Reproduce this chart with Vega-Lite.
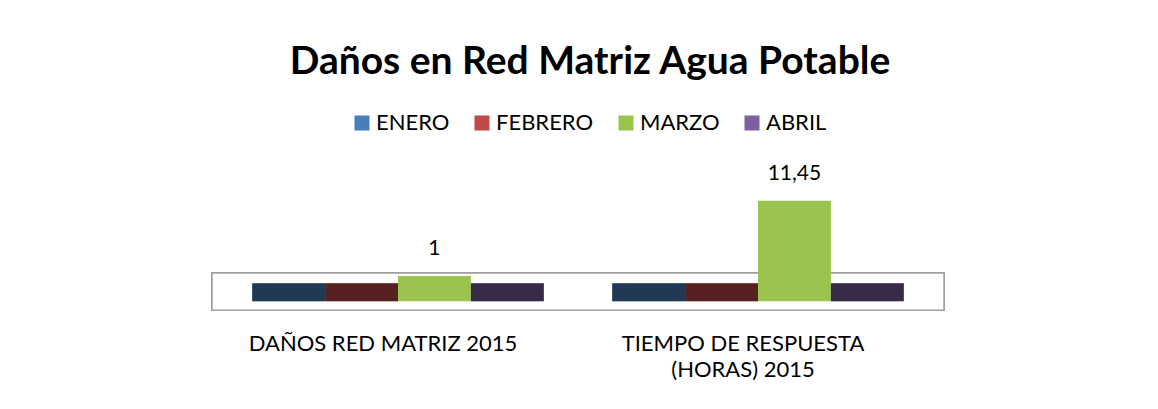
{
  "$schema": "https://vega.github.io/schema/vega-lite/v6.json",
  "autosize": "none",
  "width": 732,
  "height": 130,
  "padding": {"left": 212, "top": 182, "right": 214, "bottom": 97},
  "background": "white",
  "config": {
    "font": "Lato",
    "view": {"stroke": null},
    "locale": {"number": {"decimal": ",", "thousands": ".", "grouping": [3], "currency": ["", " €"]}}
  },
  "title": {
    "text": "Daños en Red Matriz Agua Potable",
    "font": "Lato",
    "fontSize": 39,
    "fontWeight": "bold",
    "color": "#000000",
    "anchor": "middle",
    "frame": "group",
    "dx": 12,
    "offset": 30
  },
  "data": {
    "values": [
      {"categoria": "DAÑOS RED MATRIZ 2015", "mes": "ENERO", "valor": 0},
      {"categoria": "DAÑOS RED MATRIZ 2015", "mes": "FEBRERO", "valor": 0},
      {"categoria": "DAÑOS RED MATRIZ 2015", "mes": "MARZO", "valor": 1},
      {"categoria": "DAÑOS RED MATRIZ 2015", "mes": "ABRIL", "valor": 0},
      {"categoria": "TIEMPO DE RESPUESTA (HORAS) 2015", "mes": "ENERO", "valor": 0},
      {"categoria": "TIEMPO DE RESPUESTA (HORAS) 2015", "mes": "FEBRERO", "valor": 0},
      {"categoria": "TIEMPO DE RESPUESTA (HORAS) 2015", "mes": "MARZO", "valor": 11.45},
      {"categoria": "TIEMPO DE RESPUESTA (HORAS) 2015", "mes": "ABRIL", "valor": 0}
    ]
  },
  "layer": [
    {
      "mark": {"type": "rect", "fill": "#ffffff", "stroke": "#a0a0a0", "strokeWidth": 1.5},
      "encoding": {
        "y": {"datum": 1.4, "type": "quantitative", "scale": {"domain": [-4, 14.0556], "nice": false, "zero": false}, "axis": null},
        "y2": {"datum": -3.75}
      }
    },
    {
      "mark": {"type": "bar"},
      "encoding": {
        "x": {
          "field": "categoria",
          "type": "nominal",
          "sort": null,
          "scale": {"paddingInner": 0.19, "paddingOuter": 0.1117},
          "axis": {
            "title": null,
            "domain": false,
            "ticks": false,
            "labelAngle": 0,
            "labelFontSize": 22,
            "labelColor": "#000000",
            "labelPadding": 21,
            "labelLineHeight": 26,
            "labelLimit": 400,
            "labelOffset": -15,
            "labelExpr": "datum.value == 'TIEMPO DE RESPUESTA (HORAS) 2015' ? ['TIEMPO DE RESPUESTA', '(HORAS) 2015'] : datum.value"
          }
        },
        "xOffset": {"field": "mes", "type": "nominal", "sort": ["ENERO", "FEBRERO", "MARZO", "ABRIL"], "scale": {"paddingInner": 0}},
        "y": {"field": "valor", "type": "quantitative", "stack": null},
        "y2": {"datum": -2.5},
        "color": {
          "field": "mes",
          "type": "nominal",
          "scale": {"domain": ["ENERO", "FEBRERO", "MARZO", "ABRIL"], "range": ["#4a7ebb", "#be4b48", "#9bc44f", "#7d60a0"]},
          "legend": {
            "orient": "none",
            "legendX": 139,
            "legendY": -70,
            "direction": "horizontal",
            "title": null,
            "symbolType": "square",
            "symbolSize": 225,
            "symbolStrokeWidth": 0,
            "labelFontSize": 22,
            "labelColor": "#000000",
            "labelOffset": 3,
            "columnPadding": 21
          }
        }
      }
    },
    {
      "transform": [{"filter": "datum.valor == 0"}],
      "mark": {"type": "bar", "color": "#000000", "opacity": 0.55},
      "encoding": {
        "x": {"field": "categoria", "type": "nominal", "sort": null},
        "xOffset": {"field": "mes", "type": "nominal", "sort": ["ENERO", "FEBRERO", "MARZO", "ABRIL"]},
        "y": {"datum": 0},
        "y2": {"datum": -2.5}
      }
    },
    {
      "transform": [{"filter": "datum.valor > 0"}],
      "mark": {"type": "text", "fontSize": 21, "color": "#000000", "baseline": "bottom", "dy": -17},
      "encoding": {
        "x": {"field": "categoria", "type": "nominal", "sort": null},
        "xOffset": {"field": "mes", "type": "nominal", "sort": ["ENERO", "FEBRERO", "MARZO", "ABRIL"]},
        "y": {"field": "valor", "type": "quantitative"},
        "text": {"field": "valor", "type": "quantitative", "format": ".2~f"}
      }
    }
  ]
}
